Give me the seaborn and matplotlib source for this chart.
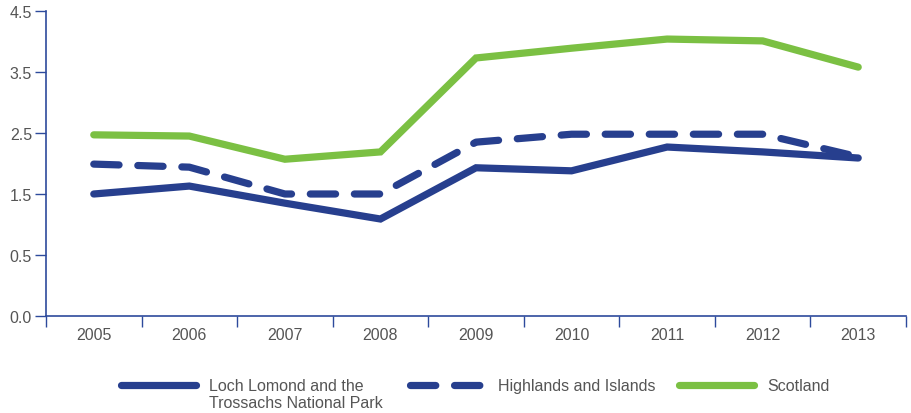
import numpy as np
import pandas as pd
import matplotlib.pyplot as plt
import seaborn as sns

years = ["2005", "2006", "2007", "2008", "2009", "2010", "2011", "2012", "2013"]
loch_lomond = [1.50, 1.63, 1.35, 1.09, 1.93, 1.88, 2.27, 2.19, 2.09]
highlands = [1.99, 1.94, 1.50, 1.50, 2.35, 2.48, 2.48, 2.48, 2.11]
scotland = [2.47, 2.45, 2.07, 2.19, 3.73, 3.89, 4.04, 4.01, 3.58]
y_ticks = [0.0, 0.5, 1.5, 2.5, 3.5, 4.5]

names = ["Loch Lomond and the", "Highlands and Islands", "Scotland"]
loch_second_line = "Trossachs National Park"
navy = "#273f8e"
green = "#7bc043"
axis_blue = "#2d4a9c"
text_grey = "#555555"

sns.set_style("white")
plt.rcParams["font.family"] = ["Liberation Sans", "DejaVu Sans"]

df = pd.DataFrame({
    "pos": list(range(len(years))) * 3,
    "value": loch_lomond + highlands + scotland,
    "series": [names[0]] * 9 + [names[1]] * 9 + [names[2]] * 9,
})

W, H = 912, 414
fig = plt.figure(figsize=(W / 100, H / 100), dpi=100)
ax = fig.add_axes([46 / W, 97 / H, 860 / W, 305 / H])


# the original axis spaces its labels evenly even though they skip 1.0
def fwd(v):
    v = np.asarray(v, dtype=float)
    return np.where(v < 0.5, 2 * v, v + 0.5)


def inv(p):
    p = np.asarray(p, dtype=float)
    return np.where(p < 1, p / 2, p - 0.5)


ax.set_yscale("function", functions=(fwd, inv))

sns.lineplot(data=df, x="pos", y="value", hue="series", style="series",
             palette={names[0]: navy, names[1]: navy, names[2]: green},
             dashes={names[0]: "", names[1]: (3.5, 2.6), names[2]: ""},
             linewidth=5.2, ax=ax, legend=True)
for ln in ax.lines:
    ln.set_solid_capstyle("round")
    ln.set_dash_capstyle("round")
    ln.set_solid_joinstyle("miter")

ax.set_xlim(-0.5, len(years) - 0.5)
ax.set_ylim(0, 4.5)
ax.set_yticks(y_ticks)
ax.set_yticks([], minor=True)
ax.set_yticklabels([f"{t:.1f}" for t in y_ticks])
ax.set_xticks(range(len(years)))
ax.set_xticklabels(years)
ax.set_xticks(np.arange(-0.5, len(years)), minor=True)
ax.tick_params(axis="x", which="minor", length=8, width=1, color=axis_blue, direction="out", bottom=True)
ax.tick_params(axis="x", which="major", length=0, pad=8, labelsize=11.5, labelcolor=text_grey)
ax.tick_params(axis="y", which="major", length=8, width=1, color=axis_blue, direction="out",
               left=True, pad=2, labelsize=11.5, labelcolor=text_grey)
ax.set_xlabel("")
ax.set_ylabel("")

for side in ["top", "right"]:
    ax.spines[side].set_visible(False)
for side in ["left", "bottom"]:
    ax.spines[side].set_color(axis_blue)
    ax.spines[side].set_linewidth(1.2)

# one legend per entry so each sits where the original puts it
handles, labels = ax.get_legend_handles_labels()
ax.get_legend().remove()
legend_x = [121, 410, 679]
legends = []
for h, lab, x in zip(handles, labels, legend_x):
    leg = fig.legend([h], [lab], loc="center left", bbox_to_anchor=(x / W, 1 - 387 / H),
                     bbox_transform=fig.transFigure, frameon=False, fontsize=11.5,
                     handlelength=4.7, handletextpad=0.8, borderpad=0, borderaxespad=0)
    for t in leg.get_texts():
        t.set_color(text_grey)
    for hl in leg.get_lines():
        hl.set_linewidth(5.2)
        hl.set_solid_capstyle("round")
        hl.set_dash_capstyle("round")
    legends.append(leg)

fig.canvas.draw()
first_box = legends[0].get_texts()[0].get_window_extent()
fig.text(first_box.x0 / W, 1 - 404 / H, loch_second_line, fontsize=11.5,
         color=text_grey, ha="left", va="center")

fig.savefig("out.png", dpi=100)
